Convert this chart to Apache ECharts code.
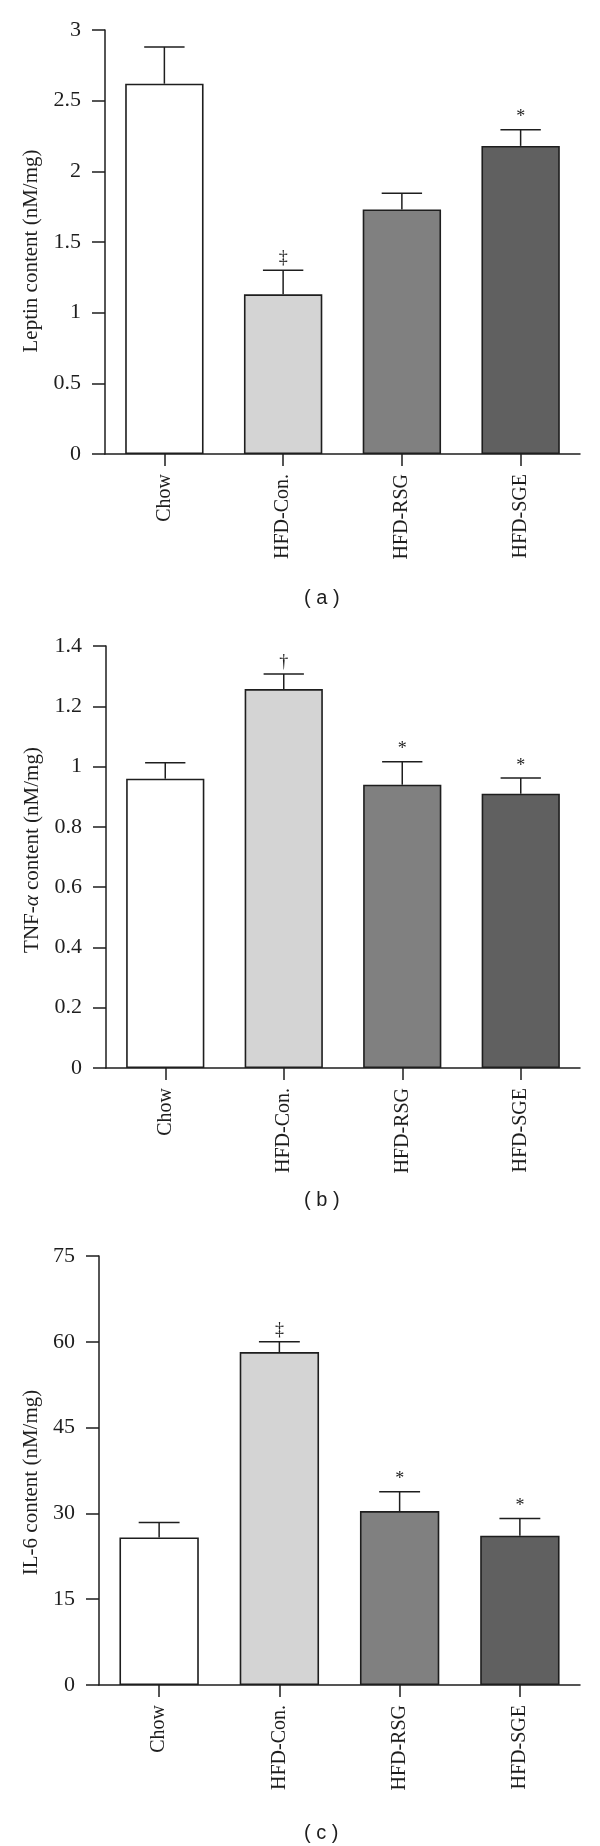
<!DOCTYPE html>
<html>
<head>
<meta charset="utf-8">
<script src="https://cdn.jsdelivr.net/npm/echarts@6/dist/echarts.min.js"></script>
<style>
html,body{margin:0;padding:0;background:#fff;}
#chart{width:600px;height:1846px;}
</style>
</head>
<body>
<div id="chart"></div>
<script>
// ---- data ----
const categories = ['Chow', 'HFD-Con.', 'HFD-RSG', 'HFD-SGE'];
const barColors = ['#ffffff', '#d4d4d4', '#808080', '#606060'];

const leptinMean = [2.62, 1.13, 1.73, 2.18];
const leptinUpper = [2.88, 1.30, 1.845, 2.295];
const leptinSig = ['', '‡', '', '*'];

const tnfMean = [0.96, 1.257, 0.94, 0.91];
const tnfUpper = [1.013, 1.307, 1.016, 0.962];
const tnfSig = ['', '†', '*', '*'];

const il6Mean = [25.8, 58.2, 30.4, 26.1];
const il6Upper = [28.4, 60.0, 33.8, 29.1];
const il6Sig = ['', '‡', '*', '*'];

const leptinTicks = {min: 0, max: 3, interval: 0.5};
const tnfTicks = {min: 0, max: 1.4, interval: 0.2};
const il6Ticks = {min: 0, max: 75, interval: 15};

const panelLabels = ['( a )', '( b )', '( c )'];

// ---- chart ----
const SERIF = 'Liberation Serif';
const INK = '#1e1e1e';

const grids = [
  {left: 105, right: 20, top: 30, height: 424},
  {left: 106, right: 20, top: 646, height: 422},
  {left: 99, right: 20, top: 1256, height: 429}
];

function xAxisFor(i) {
  return {
    type: 'category', gridIndex: i, data: categories,
    axisLine: {lineStyle: {color: INK, width: 1.5}},
    axisTick: {show: true, alignWithLabel: true, length: 12, lineStyle: {color: INK, width: 1.5}},
    axisLabel: {rotate: 90, fontFamily: SERIF, fontSize: 20, color: INK, margin: 20}
  };
}

function yAxisFor(i, ticks, name, gap, pad) {
  return {
    type: 'value', gridIndex: i, min: ticks.min, max: ticks.max, interval: ticks.interval,
    splitLine: {show: false},
    axisLine: {show: true, lineStyle: {color: INK, width: 1.5}},
    axisTick: {show: true, length: 13, lineStyle: {color: INK, width: 1.5}},
    axisLabel: {fontFamily: SERIF, fontSize: 22, color: INK, margin: 24},
    name: name, nameLocation: 'middle', nameGap: gap,
    nameTextStyle: {fontFamily: SERIF, fontSize: 21, color: INK, padding: pad,
      rich: {i: {fontFamily: SERIF, fontSize: 21, color: INK, fontStyle: 'italic'}}}
  };
}

function barSeries(i, means) {
  return {
    type: 'bar', xAxisIndex: i, yAxisIndex: i, barWidth: '66%',
    data: means.map((v, k) => ({value: v, itemStyle: {color: barColors[k]}})),
    itemStyle: {borderColor: INK, borderWidth: 1.6},
    silent: true, z: 2
  };
}

function errSeries(i, means, uppers, sigs) {
  return {
    type: 'custom', xAxisIndex: i, yAxisIndex: i, z: 3, silent: true,
    data: means.map((m, k) => [k, m, uppers[k], sigs[k]]),
    encode: {x: 0, y: [1, 2]},
    renderItem: function (params, api) {
      const k = api.value(0);
      const pMean = api.coord([k, api.value(1)]);
      const pUp = api.coord([k, api.value(2)]);
      const half = api.size([1, 0])[0] * 0.17;
      const sig = sigs[k];
      const style = {stroke: INK, lineWidth: 1.5};
      const children = [
        {type: 'line', shape: {x1: pMean[0], y1: pMean[1], x2: pUp[0], y2: pUp[1]}, style: style},
        {type: 'line', shape: {x1: pUp[0] - half, y1: pUp[1], x2: pUp[0] + half, y2: pUp[1]}, style: style}
      ];
      if (sig) {
        children.push({type: 'text', x: pUp[0], y: pUp[1] - 3,
          style: {text: sig, fontFamily: SERIF, fontSize: 18, fill: INK, align: 'center', verticalAlign: 'bottom'}});
      }
      return {type: 'group', children: children};
    }
  };
}

const titleTops = [588, 1190, 1823];

const option = {
  animation: false,
  backgroundColor: '#ffffff',
  title: panelLabels.map((t, i) => ({
    text: t, left: 304, top: titleTops[i], padding: 0,
    textStyle: {fontFamily: 'Liberation Sans', fontSize: 20, fontWeight: 'normal', color: INK}
  })),
  grid: grids,
  xAxis: [xAxisFor(0), xAxisFor(1), xAxisFor(2)],
  yAxis: [
    yAxisFor(0, leptinTicks, 'Leptin content (nM/mg)', 63, [0, 18, 0, 0]),
    yAxisFor(1, tnfTicks, 'TNF-{i|α} content (nM/mg)', 63, [0, 0, 0, 14]),
    yAxisFor(2, il6Ticks, 'IL-6 content (nM/mg)', 56, [0, 24, 0, 0])
  ],
  series: [
    barSeries(0, leptinMean), errSeries(0, leptinMean, leptinUpper, leptinSig),
    barSeries(1, tnfMean), errSeries(1, tnfMean, tnfUpper, tnfSig),
    barSeries(2, il6Mean), errSeries(2, il6Mean, il6Upper, il6Sig)
  ]
};

const chart = echarts.init(document.getElementById('chart'), null, {renderer: 'canvas'});
chart.setOption(option);
</script>
</body>
</html>
